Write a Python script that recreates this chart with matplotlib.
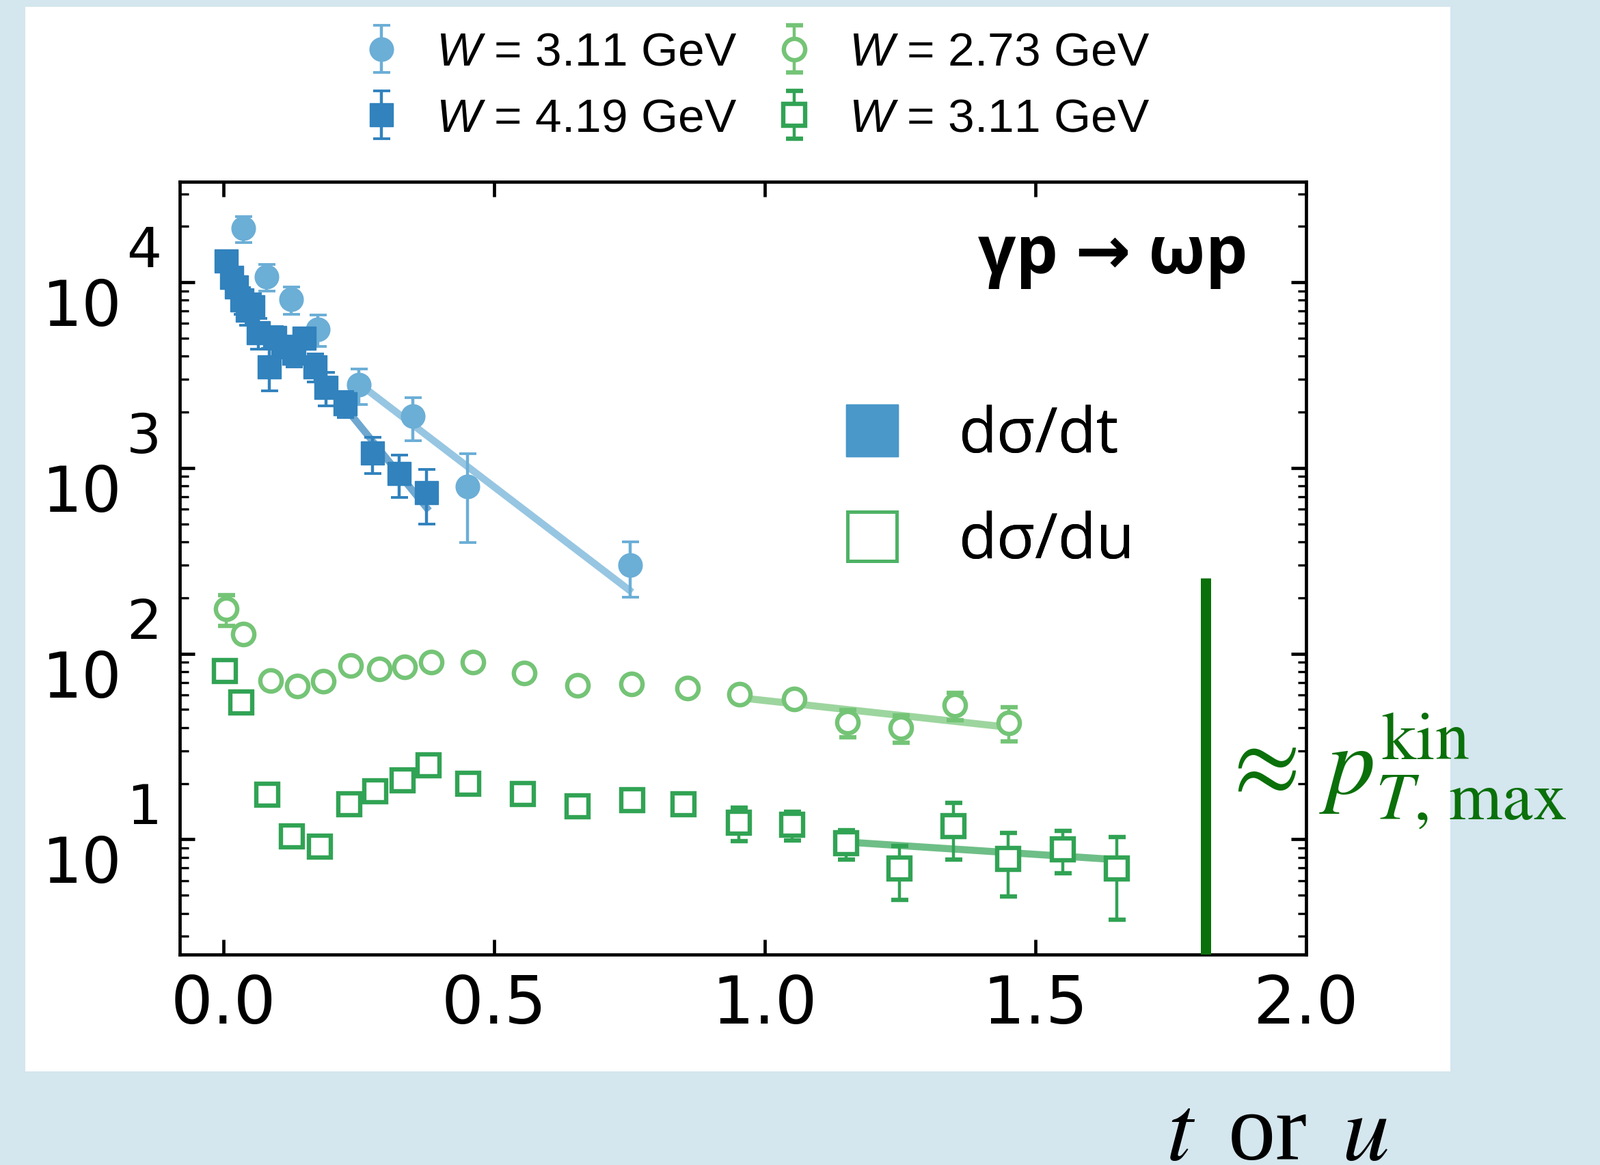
import matplotlib
matplotlib.use("Agg")
import matplotlib.pyplot as plt
from matplotlib.lines import Line2D
from matplotlib.patches import Rectangle
from matplotlib.ticker import LogLocator, NullFormatter
from matplotlib import transforms
import numpy as np

plt.rcParams['font.family'] = ['DejaVu Sans']
plt.rcParams['mathtext.fontset'] = 'custom'
plt.rcParams['mathtext.rm'] = 'Liberation Sans'
plt.rcParams['mathtext.it'] = 'Liberation Sans:italic'
plt.rcParams['mathtext.bf'] = 'Liberation Sans:bold'

# --- data ---
# dsigma/dt, W = 3.11 GeV (light blue circles)
t_dt311 = [0.037, 0.080, 0.125, 0.175, 0.250, 0.350, 0.451, 0.751]
y_dt311 = [19500, 10700, 8090, 5590, 2800, 1900, 798, 301]
e_dt311 = [3100, 1760, 1370, 1080, 600, 500, 400, 100]

# dsigma/dt, W = 4.19 GeV (dark blue squares)
t_dt419 = [0.005, 0.015, 0.025, 0.035, 0.045, 0.055, 0.065, 0.085, 0.095,
           0.110, 0.130, 0.150, 0.170, 0.190, 0.225, 0.275, 0.325, 0.375]
y_dt419 = [13070, 10600, 9450, 8040, 7080, 7370, 5370, 3500, 5050,
           4500, 4140, 5000, 3500, 2720, 2225, 1202, 932, 739]
e_dt419 = [1300, 1200, 1100, 1300, 1200, 1330, 1000, 900, 700,
           600, 640, 650, 600, 560, 350, 265, 240, 240]

# dsigma/du, W = 2.73 GeV (light green open circles)
t_du273 = [0.006, 0.037, 0.087, 0.137, 0.185, 0.235, 0.288, 0.335, 0.384, 0.461,
           0.556, 0.654, 0.754, 0.857, 0.954, 1.055, 1.153, 1.251, 1.351, 1.451]
y_du273 = [174, 128, 71.7, 66.7, 70.8, 86.0, 82.8, 85.2, 90.0, 90.2,
           78.9, 67.3, 68.5, 65.0, 60.5, 56.9, 42.6, 39.8, 52.7, 42.5]
e_du273 = [33, 8, 5, 5, 5, 6, 6, 6, 6, 6,
           5.5, 5, 5, 5, 4.5, 5.5, 7, 6.7, 8.9, 8.8]

# dsigma/du, W = 3.11 GeV (dark green open squares)
t_du311 = [0.003, 0.033, 0.081, 0.127, 0.179, 0.233, 0.281, 0.331, 0.379, 0.452, 0.553,
           0.654, 0.755, 0.850, 0.952, 1.051, 1.151, 1.249, 1.349, 1.449, 1.550, 1.650]
y_du311 = [80.9, 54.6, 17.4, 10.4, 9.13, 15.5, 18.2, 20.8, 25.1, 19.9, 17.5,
           15.1, 16.3, 15.4, 12.27, 11.97, 9.51, 6.99, 11.76, 7.87, 8.81, 6.98]
e_du311 = [4, 3, 1, 0.6, 0.5, 0.9, 1, 1.2, 1.5, 1.1, 1,
           0.9, 1, 0.9, 2.5, 2.1, 1.7, 2.26, 3.96, 2.95, 2.25, 3.3]

# exponential fits A*exp(-b*t) and their t ranges
fit_dt311 = (1.03e4, 5.13, 0.250, 0.755)
fit_dt419 = (1.363e4, 8.27, 0.225, 0.380)
fit_du273 = (116.9, 0.737, 0.955, 1.455)
fit_du311 = (16.0, 0.4375, 1.150, 1.650)

# kinematic limit marker
t_kin_max = 1.814
kin_line_top = 255

labels_top = ['$W$ = 3.11 GeV', '$W$ = 4.19 GeV', '$W$ = 2.73 GeV', '$W$ = 3.11 GeV']
xtick_vals = [0.0, 0.5, 1.0, 1.5, 2.0]
xtick_labels = ['0.0', '0.5', '1.0', '1.5', '2.0']
ytick_exps = [1, 2, 3, 4]

c_lblue = '#6baed6'
c_dblue = '#3182bd'
c_lgreen = '#74c476'
c_dgreen = '#31a354'
c_kin = '#0a700a'

fig = plt.figure(figsize=(23.41, 17.05), dpi=100, facecolor='#d4e6ee')
fig.add_artist(Rectangle((0.0158, 0.0804), 0.8906, 0.9138, transform=fig.transFigure,
                         facecolor='white', edgecolor='none', zorder=-10))
ax = fig.add_axes([0.11234, 0.18065, 0.70397, 0.66334])

# fit lines
for (A, b, t0, t1), c in [(fit_dt311, c_lblue), (fit_dt419, c_dblue),
                          (fit_du273, c_lgreen), (fit_du311, c_dgreen)]:
    tt = np.linspace(t0, t1, 50)
    ax.plot(tt, A * np.exp(-b * tt), color=c, alpha=0.7, lw=7.5,
            solid_capstyle='butt', zorder=2)

eb_kw = dict(linestyle='none', capsize=9, elinewidth=3.2, capthick=2.8)
h1 = ax.errorbar(t_dt311, y_dt311, yerr=e_dt311, fmt='o', ms=25, color=c_lblue,
                 zorder=3, **eb_kw)
h2 = ax.errorbar(t_dt419, y_dt419, yerr=e_dt419, fmt='s', ms=25, color=c_dblue,
                 zorder=4, **eb_kw)
h3 = ax.errorbar(t_du273, y_du273, yerr=e_du273, fmt='o', ms=22.5, color=c_lgreen,
                 mfc='white', mew=4.6, zorder=3, **eb_kw)
h4 = ax.errorbar(t_du311, y_du311, yerr=e_du311, fmt='s', ms=22.5, color=c_dgreen,
                 mfc='white', mew=4.6, zorder=3, **eb_kw)

ax.vlines(t_kin_max, 1, kin_line_top, color=c_kin, lw=10.8, zorder=5)

ax.set_yscale('log')
ax.set_xlim(-0.0804, 2.0)
ax.set_ylim(2.396, 3.48e4)

ax.set_xticks(xtick_vals)
ax.set_xticklabels(xtick_labels)
ax.set_yticks([10.0 ** e for e in ytick_exps])
ax.set_yticklabels([])
ax.yaxis.set_minor_locator(LogLocator(base=10, subs=np.arange(2, 10)))
ax.yaxis.set_minor_formatter(NullFormatter())
ax.tick_params(which='both', direction='in', top=True, right=True)
ax.tick_params(which='major', length=16, width=3.4, labelsize=70, pad=20)
ax.tick_params(which='minor', length=9, width=2.4)
for s in ax.spines.values():
    s.set_linewidth(3.4)

# y tick labels as 10 with a large exponent
base_tf = transforms.offset_copy(ax.get_yaxis_transform(), fig=fig, x=-84, y=-64, units='dots')
exp_tf = transforms.offset_copy(ax.get_yaxis_transform(), fig=fig, x=-78, y=22, units='dots')
for e in ytick_exps:
    ax.text(0, 10.0 ** e, '10', transform=base_tf, ha='right', va='baseline', fontsize=66)
    ax.text(0, 10.0 ** e, str(e), transform=exp_tf, ha='left', va='baseline', fontsize=58)

ax.text(0.948, 0.8815, 'γp → ωp', transform=ax.transAxes, ha='right', va='baseline',
        fontsize=70, fontweight='bold', family=['Open Sans', 'DejaVu Sans'])

# inset legend for dsigma/dt vs dsigma/du
kind_handles = [Line2D([], [], marker='s', ms=55, ls='none', color='#4a97c9'),
                Line2D([], [], marker='s', ms=52, ls='none', mfc='white', mec='#4eb265', mew=3.6)]
leg2 = ax.legend(kind_handles, ['dσ/dt', 'dσ/du'], loc='center left',
                 bbox_to_anchor=(0.5866, 0.6023), frameon=False, borderpad=0, borderaxespad=0,
                 handlelength=1.0, handletextpad=0.89, labelspacing=0.69,
                 prop={'family': ['Open Sans', 'DejaVu Sans'], 'size': 66})
ax.add_artist(leg2)

fig.legend([h1, h2, h3, h4], labels_top, ncol=2, loc='center',
           bbox_to_anchor=(0.4725, 0.926), frameon=False,
           prop={'family': ['Liberation Sans', 'DejaVu Sans'], 'size': 50},
           handlelength=0.8, handletextpad=0.75, columnspacing=0.8, labelspacing=0.47)

fig.text(1784 / 2341, 1 - 1163 / 1705, r'$\approx\, p_{T,\,\mathrm{max}}^{\mathrm{kin}}$',
         color=c_kin, fontsize=103, math_fontfamily='stix', ha='left', va='baseline')
fig.text(1706 / 2341, 1 - 1697 / 1705, r'$t\,$ or $\,u$', fontsize=100,
         family=['Liberation Serif', 'DejaVu Serif'], math_fontfamily='stix',
         ha='left', va='baseline')

fig.savefig('out.png', dpi=100, facecolor=fig.get_facecolor())
